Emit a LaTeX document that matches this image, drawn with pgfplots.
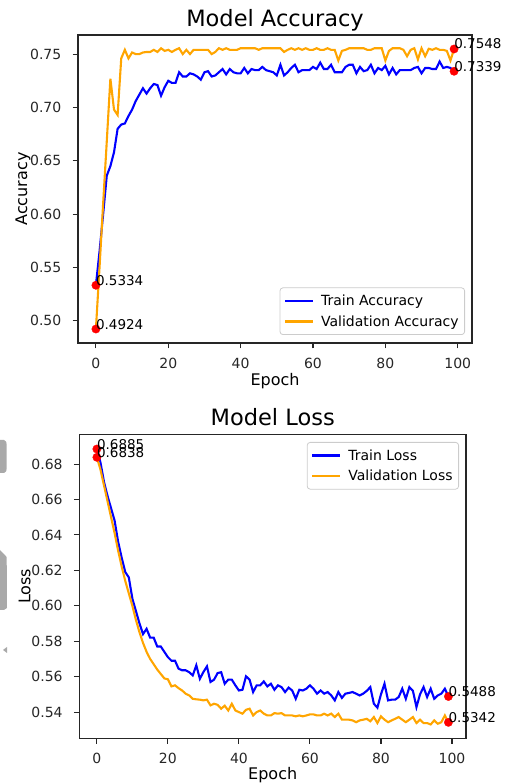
\documentclass[border=0pt]{standalone}
\usepackage{fontspec}
\setmainfont{DejaVu Sans}
\usepackage{pgfplots}
\pgfplotsset{compat=1.18}
\usepackage{pgfplotstable}

\definecolor{mplorange}{HTML}{FFA500}
\definecolor{mplblue}{HTML}{0000FF}
\definecolor{legendedge}{HTML}{CCCCCC}
\definecolor{framecol}{HTML}{262626}
\definecolor{sidegray}{HTML}{A9A9A9}

% accuracy per epoch
\pgfplotstableread{
epoch tacc vacc
0 0.5334 0.4924
1 0.565 0.550
2 0.600 0.610
3 0.636 0.668
4 0.645 0.727
5 0.658 0.698
6 0.680 0.693
7 0.684 0.746
8 0.685 0.754
9 0.692 0.746
10 0.698 0.7515
11 0.706 0.750
12 0.712 0.750
13 0.718 0.7515
14 0.713 0.752
15 0.718 0.752
16 0.722 0.754
17 0.721 0.752
18 0.711 0.7555
19 0.719 0.753
20 0.725 0.754
21 0.723 0.752
22 0.723 0.754
23 0.733 0.7555
24 0.729 0.750
25 0.729 0.754
26 0.732 0.750
27 0.731 0.754
28 0.729 0.754
29 0.726 0.754
30 0.733 0.754
31 0.734 0.754
32 0.729 0.750
33 0.730 0.752
34 0.733 0.7555
35 0.736 0.754
36 0.731 0.7555
37 0.736 0.754
38 0.733 0.754
39 0.732 0.754
40 0.732 0.7555
41 0.737 0.7555
42 0.732 0.7555
43 0.736 0.7555
44 0.735 0.7555
45 0.735 0.754
46 0.738 0.7555
47 0.735 0.7555
48 0.734 0.7555
49 0.733 0.7555
50 0.730 0.7555
51 0.740 0.7555
52 0.730 0.752
53 0.733 0.754
54 0.737 0.7555
55 0.740 0.754
56 0.733 0.7555
57 0.735 0.754
58 0.735 0.7555
59 0.735 0.754
60 0.738 0.754
61 0.736 0.7555
62 0.742 0.754
63 0.736 0.754
64 0.736 0.7555
65 0.740 0.754
66 0.733 0.754
67 0.733 0.744
68 0.733 0.753
69 0.738 0.754
70 0.740 0.7555
71 0.740 0.7555
72 0.732 0.7555
73 0.738 0.7555
74 0.734 0.7555
75 0.735 0.754
76 0.740 0.754
77 0.732 0.7555
78 0.737 0.7555
79 0.735 0.7555
80 0.739 0.744
81 0.731 0.753
82 0.737 0.7555
83 0.731 0.7555
84 0.735 0.7555
85 0.735 0.754
86 0.735 0.748
87 0.735 0.754
88 0.737 0.7555
89 0.738 0.745
90 0.732 0.7555
91 0.737 0.748
92 0.737 0.755
93 0.736 0.754
94 0.736 0.7555
95 0.743 0.754
96 0.737 0.754
97 0.738 0.753
98 0.737 0.744
99 0.7339 0.7548
}\acctable

% loss per epoch
\pgfplotstableread{
epoch tloss vloss
0 0.6885 0.6838
1 0.681 0.677
2 0.670 0.668
3 0.662 0.659
4 0.655 0.650
5 0.648 0.641
6 0.636 0.631
7 0.627 0.622
8 0.619 0.614
9 0.616 0.607
10 0.604 0.600
11 0.597 0.592
12 0.590 0.585
13 0.584 0.579
14 0.587 0.574
15 0.582 0.570
16 0.582 0.567
17 0.577 0.564
18 0.577 0.5615
19 0.574 0.559
20 0.571 0.5585
21 0.569 0.5545
22 0.569 0.5551
23 0.5645 0.5535
24 0.5636 0.5522
25 0.5636 0.5504
26 0.5625 0.5494
27 0.5607 0.5475
28 0.5664 0.5472
29 0.5588 0.5470
30 0.5626 0.5466
31 0.5658 0.5470
32 0.5570 0.5438
33 0.5583 0.5447
34 0.5620 0.5441
35 0.5625 0.5419
36 0.5560 0.5436
37 0.5583 0.5409
38 0.5583 0.5447
39 0.5551 0.5409
40 0.5522 0.5400
41 0.5526 0.5391
42 0.5602 0.5413
43 0.5583 0.5419
44 0.5513 0.5381
45 0.5551 0.5400
46 0.5551 0.5409
47 0.5573 0.5391
48 0.5545 0.5381
49 0.5560 0.5381
50 0.5526 0.5394
51 0.5551 0.5391
52 0.5541 0.5394
53 0.5513 0.5381
54 0.5538 0.5381
55 0.5522 0.5381
56 0.5475 0.5376
57 0.5526 0.5381
58 0.5522 0.5376
59 0.5532 0.5381
60 0.5551 0.5387
61 0.5532 0.5387
62 0.5504 0.5381
63 0.5522 0.5381
64 0.5504 0.5391
65 0.5513 0.5381
66 0.5494 0.5391
67 0.5466 0.5372
68 0.5513 0.5391
69 0.5480 0.5357
70 0.5504 0.5357
71 0.5508 0.5357
72 0.5513 0.5353
73 0.5504 0.5343
74 0.5494 0.5353
75 0.5504 0.5357
76 0.5520 0.5362
77 0.5541 0.5348
78 0.5447 0.5372
79 0.5425 0.5338
80 0.5500 0.5376
81 0.5560 0.5357
82 0.5466 0.5343
83 0.5470 0.5353
84 0.5470 0.5362
85 0.5485 0.5372
86 0.5532 0.5357
87 0.5475 0.5343
88 0.5541 0.5357
89 0.5520 0.5372
90 0.5428 0.5338
91 0.5500 0.5357
92 0.5541 0.5338
93 0.5485 0.5338
94 0.5532 0.5330
95 0.5475 0.5353
96 0.5494 0.5334
97 0.5504 0.5343
98 0.5532 0.5381
99 0.5488 0.5342
}\losstable

\pgfplotsset{
  mpl/.style={
    scale only axis,
    clip mode=individual,
    axis line style={line width=1.1pt, framecol},
    every tick/.style={line width=1.1pt, framecol},
    tick align=outside,
    major tick length=5.5pt,
    xtick pos=bottom, ytick pos=left,
    xmin=-4.95, xmax=103.95,
    xtick={0,20,40,60,80,100},
    /pgf/number format/assume math mode=true,
    tick label style={font=\fontsize{14}{16}\selectfont, text=black!85},
    xticklabel style={anchor=base, inner sep=0pt, yshift=-20pt},
    yticklabel style={anchor=east, inner sep=0pt, xshift=-11pt,
      /pgf/number format/.cd, fixed, fixed zerofill, precision=2},
    legend cell align=left,
    legend image code/.code={\draw[#1, line width=2.1pt] (0pt,0pt) -- (28pt,0pt);},
    legend style={draw=legendedge, line width=0.8pt, rounded corners=3pt,
      fill=white, fill opacity=0.8, text opacity=1,
      font=\fontsize{14}{16}\selectfont,
      inner xsep=4pt, inner ysep=5pt, row sep=4.5pt,
      /tikz/every odd column/.append style={column sep=5pt}},
  },
  trainline/.style={mplblue, line width=2.1pt},
  valline/.style={mplorange, line width=2.1pt},
  enddot/.style={only marks, mark=*, mark size=4.2pt, red,
    mark options={fill=red, draw=red, line width=0.3pt}, forget plot},
}

\newcommand{\annfont}{\fontsize{13.5}{15}\selectfont}

\begin{document}
\begin{tikzpicture}
\useasboundingbox (0,0) rectangle (505pt,784pt);

% accuracy panel
\begin{axis}[mpl,
  at={(78pt,441pt)}, anchor=south west,
  width=394pt, height=308pt,
  ymin=0.4793, ymax=0.7679,
  ytick={0.50,0.55,0.60,0.65,0.70,0.75},
  legend style={at={(1,0)}, anchor=south east, xshift=-7pt, yshift=8pt},
]
\addplot[trainline] table[x=epoch, y=tacc] {\acctable};
\addlegendentry{Train Accuracy}
\addplot[valline] table[x=epoch, y=vacc] {\acctable};
\addlegendentry{Validation Accuracy}
\addplot[enddot] coordinates {(0,0.5334) (99,0.7339) (0,0.4924) (99,0.7548)};
\node[anchor=base west, inner sep=0pt, font=\annfont] at (axis cs:0,0.5334) {0.5334};
\node[anchor=base west, inner sep=0pt, font=\annfont] at (axis cs:99,0.7339) {0.7339};
\node[anchor=base west, inner sep=0pt, font=\annfont] at (axis cs:0,0.4924) {0.4924};
\node[anchor=base west, inner sep=0pt, font=\annfont] at (axis cs:99,0.7548) {0.7548};
\end{axis}

% loss panel
\begin{axis}[mpl,
  at={(79.3pt,45.7pt)}, anchor=south west,
  width=386.7pt, height=304pt,
  ymin=0.5252, ymax=0.6968,
  ytick={0.54,0.56,0.58,0.60,0.62,0.64,0.66,0.68},
  legend style={at={(1,1)}, anchor=north east, xshift=-7pt, yshift=-7.7pt},
]
\addplot[trainline] table[x=epoch, y=tloss] {\losstable};
\addlegendentry{Train Loss}
\addplot[valline] table[x=epoch, y=vloss] {\losstable};
\addlegendentry{Validation Loss}
\addplot[enddot] coordinates {(0,0.6885) (99,0.5488) (0,0.6838) (99,0.5342)};
\node[anchor=base west, inner sep=0pt, font=\annfont] at (axis cs:0,0.6885) {0.6885};
\node[anchor=base west, inner sep=0pt, font=\annfont] at (axis cs:99,0.5488) {0.5488};
\node[anchor=base west, inner sep=0pt, font=\annfont] at (axis cs:0,0.6838) {0.6838};
\node[anchor=base west, inner sep=0pt, font=\annfont] at (axis cs:99,0.5342) {0.5342};
\end{axis}

% titles and axis labels
\node[anchor=base, font=\fontsize{22.5}{26}\selectfont] at (275pt,757.3pt) {Model Accuracy};
\node[anchor=base, font=\fontsize{16}{18}\selectfont] at (275pt,398pt) {Epoch};
\node[anchor=base, rotate=90, font=\fontsize{16}{18}\selectfont] at (27.2pt,595pt) {Accuracy};
\node[anchor=base, font=\fontsize{22.5}{26}\selectfont] at (272.7pt,358pt) {Model Loss};
\node[anchor=base, font=\fontsize{16}{18}\selectfont] at (272.7pt,4.1pt) {Epoch};
\node[anchor=base, rotate=90, font=\fontsize{16}{18}\selectfont] at (30.5pt,197.7pt) {Loss};

% grey edge shapes along the left border
\fill[sidegray] (0pt,344pt) -- (4pt,344pt) to[out=0,in=90] (6.7pt,339pt) -- (6.7pt,316pt) to[out=-90,in=0] (4pt,311pt) -- (0pt,311pt) -- cycle;
\fill[sidegray] (0pt,234pt) -- (6.7pt,227pt) -- (7pt,176pt) -- (4pt,174pt) -- (0pt,174pt) -- cycle;
\fill[sidegray] (3pt,134pt) -- (7pt,137pt) -- (7pt,131pt) -- cycle;
\end{tikzpicture}
\end{document}
